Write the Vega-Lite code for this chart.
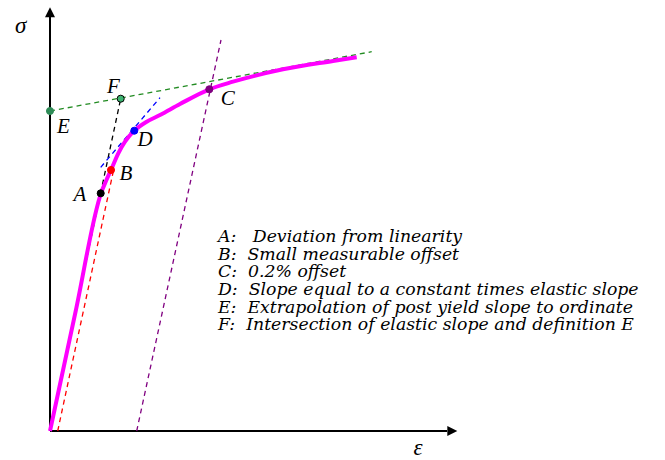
{
  "$schema": "https://vega.github.io/schema/vega-lite/v6.json",
  "width": 665,
  "height": 460,
  "padding": 0,
  "autosize": {"type": "none"},
  "background": "white",
  "config": {"view": {"stroke": null}},
  "datasets": {
    "curve": [
      {"strain": 0, "stress": 0},
      {"strain": 25.5, "stress": 119},
      {"strain": 51, "stress": 237.7},
      {"strain": 56, "stress": 250},
      {"strain": 61, "stress": 261},
      {"strain": 68.3, "stress": 277.7},
      {"strain": 75, "stress": 289.3},
      {"strain": 84.3, "stress": 300.3},
      {"strain": 96.7, "stress": 309.3},
      {"strain": 110, "stress": 316},
      {"strain": 130, "stress": 327},
      {"strain": 159.3, "stress": 341.7},
      {"strain": 183, "stress": 349.3},
      {"strain": 233, "stress": 361.7},
      {"strain": 283, "stress": 370},
      {"strain": 306.7, "stress": 373.7}
    ],
    "guides": [
      {"line": "red", "strain": 7.7, "stress": 0},
      {"line": "red", "strain": 64, "stress": 263},
      {"line": "black", "strain": 0, "stress": 0},
      {"line": "black", "strain": 70.7, "stress": 332.3},
      {"line": "blue", "strain": 50.7, "stress": 263.7},
      {"line": "blue", "strain": 110, "stress": 333.3},
      {"line": "green", "strain": 0, "stress": 320},
      {"line": "green", "strain": 321.7, "stress": 379.3},
      {"line": "purple", "strain": 86.7, "stress": 0},
      {"line": "purple", "strain": 171, "stress": 391}
    ],
    "points": [
      {"label": "A", "strain": 50.7, "stress": 237.7, "lx": 30, "ly": 236},
      {"label": "B", "strain": 61, "stress": 261, "lx": 76, "ly": 257},
      {"label": "C", "strain": 159.3, "stress": 341.7, "lx": 177.7, "ly": 331.7},
      {"label": "D", "strain": 84.3, "stress": 300.3, "lx": 95, "ly": 291},
      {"label": "E", "strain": 0, "stress": 320, "lx": 13.3, "ly": 304.3},
      {"label": "F", "strain": 70.7, "stress": 332.3, "lx": 63.3, "ly": 343.7}
    ],
    "axes": [
      {"axis": "stress", "x1": 0, "y1": 0, "x2": 0, "y2": 414},
      {"axis": "strain", "x1": 0, "y1": 0, "x2": 397, "y2": 0}
    ],
    "arrows": [
      {"axis": "stress", "x": 0, "y": 418.7},
      {"axis": "strain", "x": 402.3, "y": 0}
    ],
    "symbols": [
      {"sym": "σ", "x": -29.3, "y": 398},
      {"sym": "ε", "x": 368, "y": -24}
    ],
    "notes": [
      {"note": "A:\u00a0\u00a0 Deviation from linearity", "x": 168, "y": 189},
      {"note": "B:\u00a0 Small measurable offset", "x": 168, "y": 171.3},
      {"note": "C:\u00a0 0.2% offset", "x": 168, "y": 153.7},
      {"note": "D:\u00a0 Slope equal to a constant times elastic slope", "x": 168, "y": 136},
      {"note": "E:\u00a0 Extrapolation of post yield slope to ordinate", "x": 168, "y": 118.4},
      {"note": "F:\u00a0 Intersection of elastic slope and definition E", "x": 168, "y": 100.8}
    ]
  },
  "layer": [
    {
      "data": {"name": "axes"},
      "mark": {"type": "rule", "color": "black", "strokeWidth": 2},
      "encoding": {
        "x": {"field": "x1", "type": "quantitative", "scale": {"domain": [-50, 615], "nice": false, "zero": false}, "axis": null},
        "y": {"field": "y1", "type": "quantitative", "scale": {"domain": [-29, 431], "nice": false, "zero": false}, "axis": null},
        "x2": {"field": "x2"},
        "y2": {"field": "y2"}
      }
    },
    {
      "data": {"name": "arrows"},
      "mark": {"type": "point", "filled": true, "color": "black", "opacity": 1, "size": 100},
      "encoding": {
        "x": {"field": "x", "type": "quantitative"},
        "y": {"field": "y", "type": "quantitative"},
        "shape": {"field": "axis", "type": "nominal", "scale": {"domain": ["stress", "strain"], "range": ["M0,-1L1,1L-1,1Z", "M1,0L-1,-1L-1,1Z"]}, "legend": null}
      }
    },
    {
      "data": {"name": "guides"},
      "mark": {"type": "line", "strokeWidth": 1.3, "strokeDash": [5, 4]},
      "encoding": {
        "x": {"field": "strain", "type": "quantitative"},
        "y": {"field": "stress", "type": "quantitative"},
        "detail": {"field": "line"},
        "color": {"field": "line", "type": "nominal", "scale": {"domain": ["red", "black", "blue", "green", "purple"], "range": ["#ff0000", "#000000", "#0000ff", "#228b22", "#800080"]}, "legend": null}
      }
    },
    {
      "data": {"name": "curve"},
      "mark": {"type": "line", "color": "#ff00ff", "strokeWidth": 4, "interpolate": "monotone"},
      "encoding": {
        "x": {"field": "strain", "type": "quantitative"},
        "y": {"field": "stress", "type": "quantitative"}
      }
    },
    {
      "data": {"name": "points"},
      "mark": {"type": "point", "filled": true, "opacity": 1, "size": 50, "strokeWidth": 1},
      "encoding": {
        "x": {"field": "strain", "type": "quantitative"},
        "y": {"field": "stress", "type": "quantitative"},
        "fill": {"field": "label", "type": "nominal", "scale": {"domain": ["A", "B", "C", "D", "E", "F"], "range": ["#000000", "#ff0000", "#800080", "#0000ff", "#2e8b57", "#3cb371"]}, "legend": null},
        "stroke": {"field": "label", "type": "nominal", "scale": {"domain": ["A", "B", "C", "D", "E", "F"], "range": ["#000000", "#ff0000", "#800080", "#0000ff", "#2e8b57", "#000000"]}, "legend": null}
      }
    },
    {
      "data": {"name": "points"},
      "mark": {"type": "text", "font": "Liberation Serif", "fontStyle": "italic", "fontSize": 21, "color": "black", "align": "center", "baseline": "middle"},
      "encoding": {
        "x": {"field": "lx", "type": "quantitative"},
        "y": {"field": "ly", "type": "quantitative"},
        "text": {"field": "label"}
      }
    },
    {
      "data": {"name": "symbols"},
      "mark": {"type": "text", "font": "Liberation Serif", "fontStyle": "italic", "fontSize": 23, "color": "black", "align": "center", "baseline": "alphabetic"},
      "encoding": {
        "x": {"field": "x", "type": "quantitative"},
        "y": {"field": "y", "type": "quantitative"},
        "text": {"field": "sym"}
      }
    },
    {
      "data": {"name": "notes"},
      "mark": {"type": "text", "font": "DejaVu Serif", "fontStyle": "italic", "fontSize": 17.3, "color": "black", "align": "left", "baseline": "alphabetic"},
      "encoding": {
        "x": {"field": "x", "type": "quantitative"},
        "y": {"field": "y", "type": "quantitative"},
        "text": {"field": "note"}
      }
    }
  ]
}
